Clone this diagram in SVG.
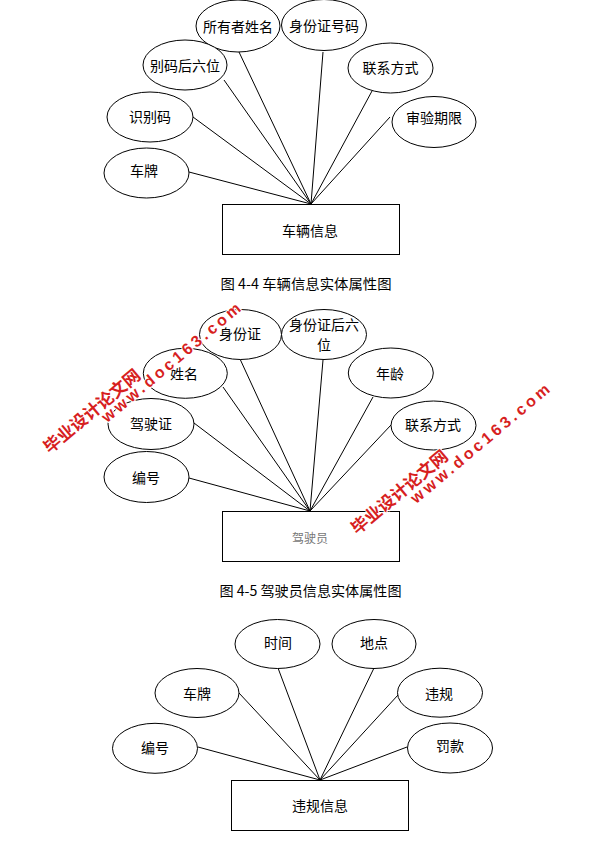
<svg xmlns="http://www.w3.org/2000/svg" width="591" height="842" viewBox="0 0 591 842">
<style>
.bg{fill:#ffffff}
.attr ellipse{fill:#ffffff;stroke:#000000;stroke-width:1}
.ent rect{fill:#ffffff;stroke:#000000;stroke-width:1}
text{font-family:"Noto Sans CJK SC","Liberation Sans",sans-serif;font-size:14px;fill:#000000;text-anchor:middle;dominant-baseline:central}
.grey{fill:#777777;font-size:12px}
.cap{font-size:14px}
.edges line{stroke:#000000;stroke-width:1}
.wm{font-weight:bold;fill:#d71f1f;stroke:#ffffff;stroke-width:2;paint-order:stroke;stroke-linejoin:round}
.wmc{font-size:17px}
.wmu{font-family:"Liberation Sans",Arial,sans-serif;font-size:16px}
</style>
<rect class="bg" x="0" y="0" width="591" height="842"/>

<!-- Figure 4-4 -->
<g class="edges" id="edges-44">
<line x1="189" y1="172" x2="311" y2="204"/>
<line x1="193" y1="117" x2="311" y2="204"/>
<line x1="224" y1="80" x2="311" y2="204"/>
<line x1="239" y1="52" x2="311" y2="204"/>
<line x1="323" y1="52" x2="311" y2="204"/>
<line x1="372" y1="91" x2="311" y2="204"/>
<line x1="390" y1="117" x2="311" y2="204"/>
</g>
<g class="attr" id="n44-owner"><ellipse cx="238" cy="26" rx="42" ry="26"/><text x="238" y="26">所有者姓名</text></g>
<g class="attr" id="n44-idno"><ellipse cx="324" cy="25" rx="42.5" ry="25.5"/><text x="324" y="25">身份证号码</text></g>
<g class="attr" id="n44-last6"><ellipse cx="185" cy="65" rx="42" ry="25"/><text x="185" y="65">别码后六位</text></g>
<g class="attr" id="n44-contact"><ellipse cx="390.5" cy="68" rx="42.5" ry="25"/><text x="390.5" y="67">联系方式</text></g>
<g class="attr" id="n44-vin"><ellipse cx="150" cy="117" rx="43" ry="25"/><text x="150" y="116">识别码</text></g>
<g class="attr" id="n44-inspect"><ellipse cx="434" cy="122" rx="42" ry="25.5"/><text x="434" y="117">审验期限</text></g>
<g class="attr" id="n44-plate"><ellipse cx="146.5" cy="173" rx="42.5" ry="25"/><text x="144" y="170">车牌</text></g>
<g class="ent" id="n44-vehicle"><rect x="222.5" y="204.5" width="177" height="50"/><text x="310" y="230">车辆信息</text></g>
<text class="cap" x="306" y="283" textLength="171" lengthAdjust="spacingAndGlyphs">图 4-4 车辆信息实体属性图</text>

<!-- Figure 4-5 -->
<g class="edges" id="edges-45">
<line x1="189" y1="478" x2="310" y2="511"/>
<line x1="194" y1="423" x2="310" y2="511"/>
<line x1="223" y1="387" x2="310" y2="511"/>
<line x1="240" y1="359" x2="310" y2="511"/>
<line x1="323" y1="360" x2="310" y2="511"/>
<line x1="373" y1="397" x2="310" y2="511"/>
<line x1="391" y1="425" x2="310" y2="511"/>
</g>
<g class="attr" id="n45-id"><ellipse cx="240.5" cy="334.5" rx="41" ry="25"/><text x="240" y="333">身份证</text></g>
<g class="attr" id="n45-id6"><ellipse cx="324" cy="334.5" rx="42.5" ry="25"/><text x="324" y="324">身份证后六</text><text x="324" y="344">位</text></g>
<g class="attr" id="n45-name"><ellipse cx="185.3" cy="373.3" rx="42" ry="25"/><text x="184" y="372.5">姓名</text></g>
<g class="attr" id="n45-age"><ellipse cx="390.8" cy="373" rx="42.5" ry="25"/><text x="390" y="373">年龄</text></g>
<g class="attr" id="n45-license"><ellipse cx="151" cy="424" rx="43" ry="25.5"/><text x="151" y="423">驾驶证</text></g>
<g class="attr" id="n45-contact"><ellipse cx="433.5" cy="425.5" rx="42.5" ry="24.5"/><text x="433" y="424">联系方式</text></g>
<g class="attr" id="n45-no"><ellipse cx="146.5" cy="477" rx="42.5" ry="25.5"/><text x="146" y="476.5">编号</text></g>
<g class="ent" id="n45-driver"><rect x="222.5" y="511.5" width="177" height="50"/><text class="grey" x="310" y="537">驾驶员</text></g>
<text class="cap" x="310.5" y="590" textLength="182" lengthAdjust="spacingAndGlyphs">图 4-5 驾驶员信息实体属性图</text>

<!-- Figure violations -->
<g class="edges" id="edges-vio">
<line x1="198" y1="747" x2="320" y2="780"/>
<line x1="239" y1="693" x2="320" y2="780"/>
<line x1="278" y1="668" x2="320" y2="780"/>
<line x1="374" y1="668" x2="320" y2="780"/>
<line x1="398" y1="695" x2="320" y2="780"/>
<line x1="407" y1="747" x2="320" y2="780"/>
</g>
<g class="attr" id="nv-time"><ellipse cx="277.5" cy="644" rx="42.5" ry="24.5"/><text x="278" y="642">时间</text></g>
<g class="attr" id="nv-place"><ellipse cx="374" cy="644" rx="42" ry="24.5"/><text x="374" y="642">地点</text></g>
<g class="attr" id="nv-plate"><ellipse cx="197" cy="693" rx="42" ry="24.5"/><text x="197" y="693">车牌</text></g>
<g class="attr" id="nv-rule"><ellipse cx="440" cy="692.7" rx="42.5" ry="24.5"/><text x="439" y="693">违规</text></g>
<g class="attr" id="nv-no"><ellipse cx="155" cy="748.3" rx="42.5" ry="25"/><text x="155" y="746.5">编号</text></g>
<g class="attr" id="nv-fine"><ellipse cx="450" cy="748" rx="42.5" ry="25"/><text x="450" y="745">罚款</text></g>
<g class="ent" id="nv-info"><rect x="231.5" y="780.5" width="177" height="50"/><text x="320" y="805">违规信息</text></g>

<!-- Watermarks -->
<g id="watermark-1">
<text class="wm wmc" x="91" y="410" transform="rotate(-40 91 410)" textLength="120" lengthAdjust="spacingAndGlyphs">毕业设计论文网</text>
<text class="wm wmu" x="171" y="362.5" transform="rotate(-40 171 362.5)" textLength="176" lengthAdjust="spacing">www.doc163.com</text>
</g>
<g id="watermark-2">
<text class="wm wmc" x="398.5" y="491" transform="rotate(-40 398.5 491)" textLength="120" lengthAdjust="spacingAndGlyphs">毕业设计论文网</text>
<text class="wm wmu" x="480" y="443.5" transform="rotate(-40 480 443.5)" textLength="176" lengthAdjust="spacing">www.doc163.com</text>
</g>
</svg>
